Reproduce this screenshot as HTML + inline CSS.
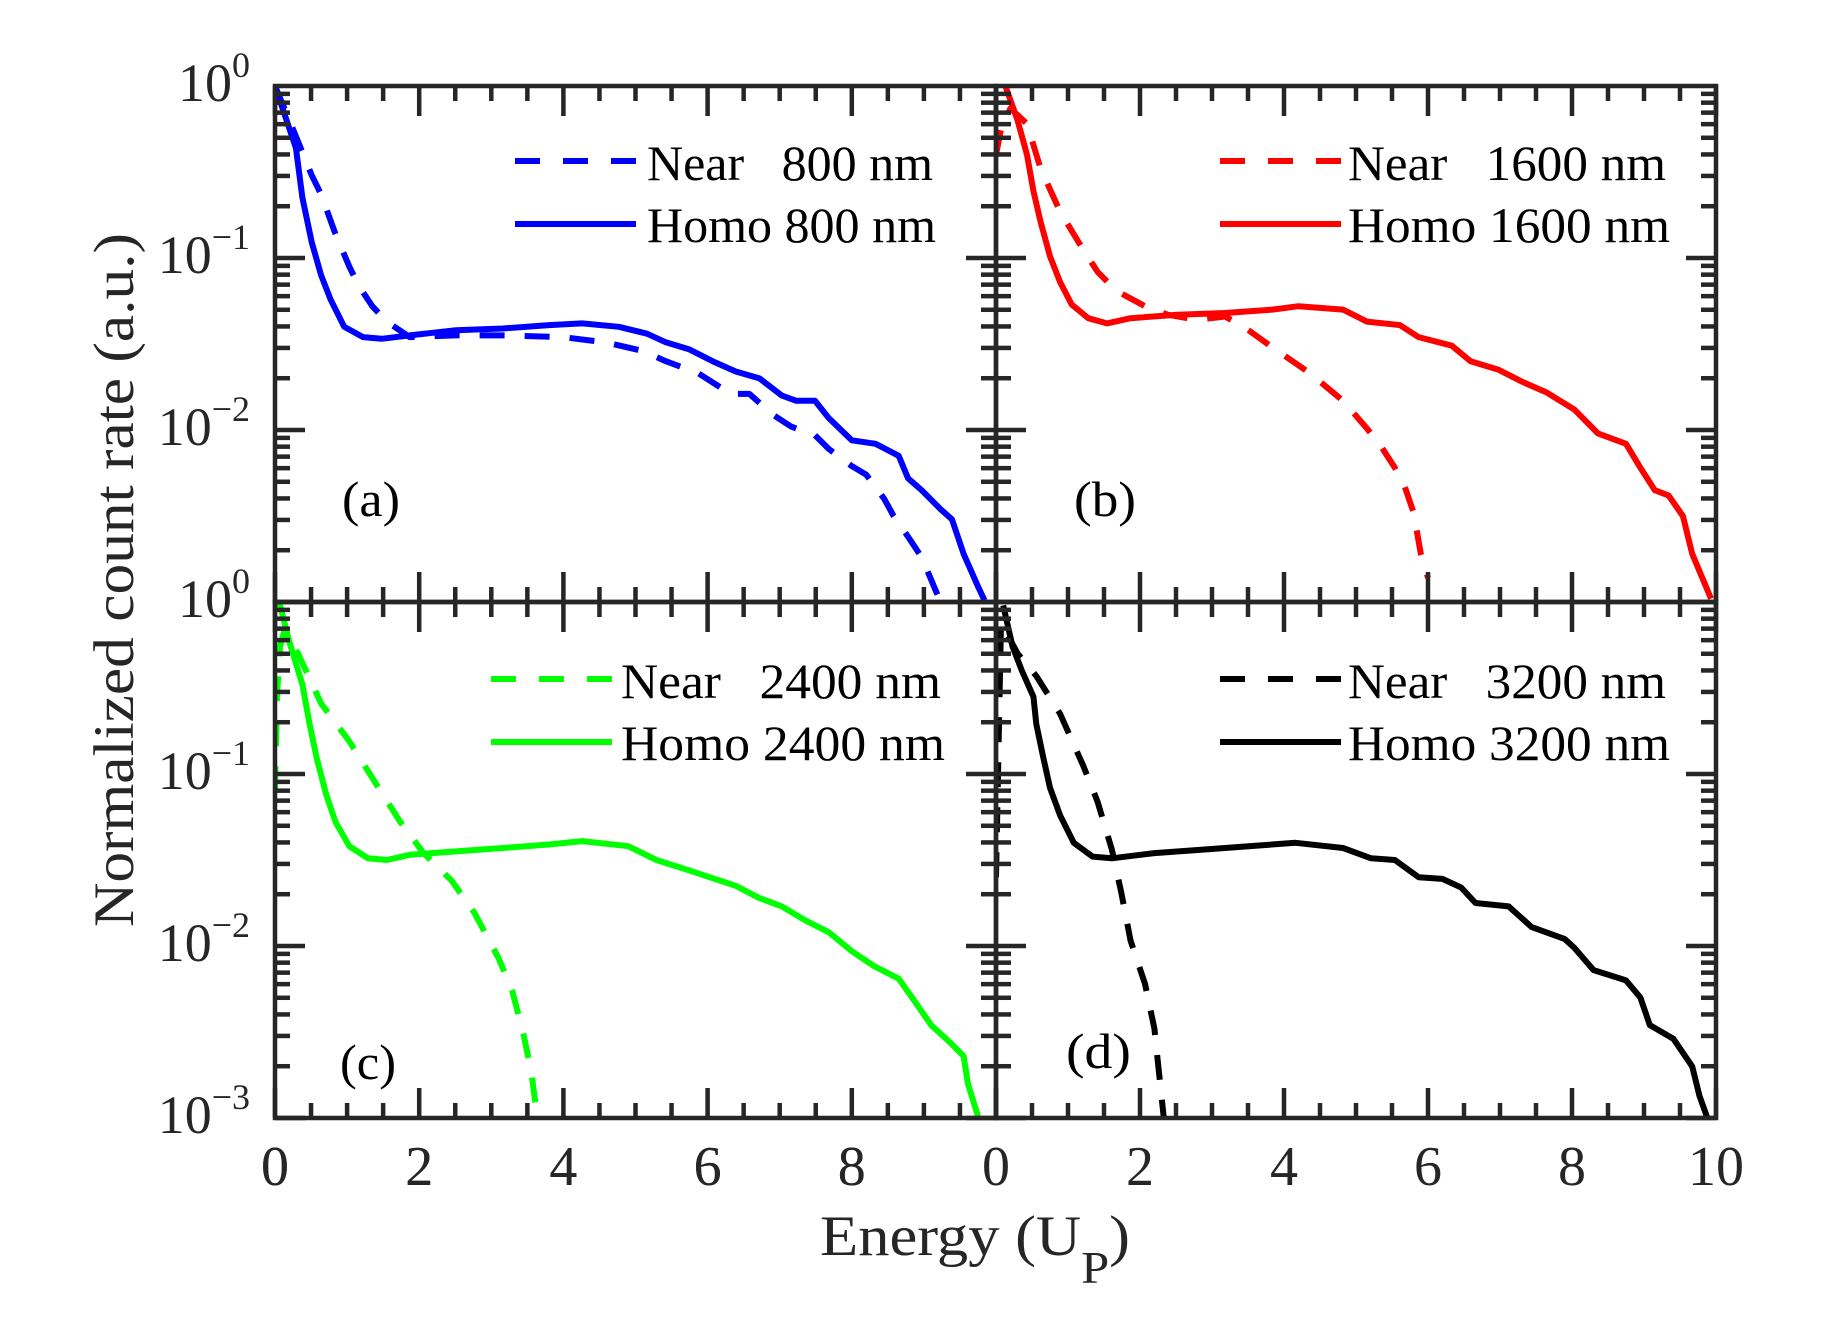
<!DOCTYPE html>
<html><head><meta charset="utf-8"><style>
html,body{margin:0;padding:0;background:#fff;}
svg{display:block;font-family:"Liberation Serif",serif;}
</style></head><body>
<svg id="chart" width="1848" height="1329" viewBox="0 0 1848 1329" xmlns="http://www.w3.org/2000/svg">
<rect width="1848" height="1329" fill="#fff"/>
<g id="plots"></g>
<g id="axes"></g>
<text x="820" y="1255" font-size="57" fill="#262626" textLength="310" lengthAdjust="spacingAndGlyphs">Energy (U<tspan dy="28" font-size="46">P</tspan><tspan dy="-28">)</tspan></text>
<text transform="translate(133,580) rotate(-90)" text-anchor="middle" font-size="57" fill="#262626" textLength="694" lengthAdjust="spacingAndGlyphs">Normalized count rate (a.u.)</text>
</svg>
<script>
// ---- data (x in Up, y as log10 of normalized count rate) ----
const nearA_x=[0,0.2,0.51,0.64,0.83,1.03,1.16,1.35,1.55,1.87,2.51,3.16,3.99,4.58,5.1,5.42,5.87,6.32,6.58,6.9,7.16,7.49,7.68,8.0,8.2,8.45,8.58,8.78,8.97,9.1,9.23];
const nearA_y=[0,-0.2,-0.52,-0.63,-0.85,-1.05,-1.16,-1.28,-1.37,-1.46,-1.45,-1.45,-1.46,-1.49,-1.54,-1.6,-1.67,-1.79,-1.79,-1.91,-1.98,-2.03,-2.11,-2.21,-2.26,-2.4,-2.5,-2.62,-2.74,-2.87,-3];
const homoA_x=[0,0.29,0.38,0.51,0.64,0.77,0.96,1.22,1.48,1.87,2.51,3.16,3.8,4.26,4.77,5.16,5.42,5.74,6.07,6.39,6.72,7.03,7.23,7.49,7.68,8.0,8.33,8.65,8.78,8.97,9.23,9.39,9.55,9.75,9.84];
const homoA_y=[0,-0.36,-0.65,-0.91,-1.1,-1.24,-1.4,-1.46,-1.47,-1.45,-1.42,-1.41,-1.39,-1.38,-1.4,-1.44,-1.49,-1.53,-1.6,-1.66,-1.7,-1.8,-1.83,-1.83,-1.93,-2.06,-2.08,-2.15,-2.28,-2.35,-2.46,-2.52,-2.72,-2.91,-2.99];
const nearB_x=[0,0.07,0.2,0.43,0.62,0.89,1.15,1.41,1.67,2.07,2.39,2.79,3.18,3.44,3.84,4.36,4.82,5.15,5.34,5.54,5.67,5.8,5.9,6.0];
const nearB_y=[-0.4,-0.25,-0.13,-0.22,-0.48,-0.73,-0.91,-1.08,-1.19,-1.28,-1.33,-1.36,-1.34,-1.4,-1.52,-1.67,-1.83,-1.99,-2.09,-2.22,-2.32,-2.48,-2.72,-2.86];
const homoB_x=[0.13,0.3,0.43,0.52,0.62,0.75,0.89,1.05,1.28,1.54,1.87,2.52,3.18,3.84,4.2,4.82,5.15,5.61,5.87,6.33,6.59,6.98,7.31,7.64,8.03,8.36,8.75,8.95,9.15,9.34,9.54,9.67,9.8,9.93];
const homoB_y=[0,-0.2,-0.4,-0.61,-0.79,-0.99,-1.14,-1.27,-1.35,-1.38,-1.35,-1.33,-1.32,-1.3,-1.28,-1.3,-1.37,-1.39,-1.46,-1.51,-1.6,-1.65,-1.72,-1.78,-1.88,-2.02,-2.08,-2.22,-2.35,-2.38,-2.5,-2.72,-2.85,-2.98];
const nearC_x=[0,0.03,0.07,0.12,0.32,0.64,1.03,1.42,1.74,2.06,2.45,2.77,3.1,3.29,3.45,3.55,3.61];
const nearC_y=[-1.1,-0.52,-0.26,-0.18,-0.3,-0.59,-0.81,-1.07,-1.28,-1.46,-1.62,-1.81,-2.07,-2.26,-2.52,-2.72,-2.91];
const homoC_x=[0.06,0.19,0.38,0.48,0.58,0.71,0.84,1.03,1.29,1.55,1.87,2.51,3.16,3.8,4.26,4.9,5.29,5.74,6.39,6.71,7.03,7.35,7.68,8.0,8.32,8.65,8.87,9.1,9.36,9.55,9.61,9.75];
const homoC_y=[0,-0.22,-0.48,-0.71,-0.91,-1.12,-1.28,-1.42,-1.49,-1.5,-1.47,-1.45,-1.43,-1.41,-1.39,-1.42,-1.5,-1.56,-1.65,-1.72,-1.77,-1.85,-1.92,-2.03,-2.12,-2.19,-2.32,-2.46,-2.56,-2.64,-2.8,-2.99];
const nearD_x=[0,0.07,0.3,0.56,0.89,1.21,1.41,1.61,1.74,1.87,2.07,2.2,2.26,2.33];
const nearD_y=[-1.6,-0.12,-0.3,-0.43,-0.65,-0.95,-1.16,-1.44,-1.69,-1.97,-2.22,-2.48,-2.72,-3];
const homoD_x=[0.1,0.23,0.36,0.52,0.56,0.66,0.75,0.89,1.08,1.34,1.61,2.2,2.85,3.51,4.16,4.82,5.21,5.54,5.87,6.2,6.46,6.66,7.12,7.44,7.9,8.03,8.3,8.75,8.95,9.08,9.41,9.67,9.77,9.88];
const homoD_y=[-0.02,-0.26,-0.4,-0.55,-0.71,-0.91,-1.08,-1.24,-1.4,-1.48,-1.49,-1.46,-1.44,-1.42,-1.4,-1.43,-1.49,-1.5,-1.6,-1.61,-1.66,-1.75,-1.77,-1.89,-1.96,-2.01,-2.14,-2.2,-2.3,-2.46,-2.54,-2.7,-2.87,-3];
const xTickValues=[0,2,4,6,8,10];
const yDecades=[0,-1,-2,-3];
const legendNames=["Near\u00a0\u00a0\u00a0800 nm","Homo 800 nm","Near\u00a0\u00a0\u00a01600 nm","Homo 1600 nm","Near\u00a0\u00a0\u00a02400 nm","Homo 2400 nm","Near\u00a0\u00a0\u00a03200 nm","Homo 3200 nm"];
const panelLetters=["(a)","(b)","(c)","(d)"];

const NS="http://www.w3.org/2000/svg";
const AX="#262626";
const panels=[
 {x0:275,x1:996,y0:86,y1:602,color:"#0000ff",nx:nearA_x,ny:nearA_y,hx:homoA_x,hy:homoA_y,lg:{lx:515,tx:647,w1:286,w2:289,y:161},lab:{x:342,y:516,w:58},xlabels:[0,2,4,6,8],ylabels:[0,-1,-2]},
 {x0:996,x1:1716,y0:86,y1:602,color:"#ff0000",nx:nearB_x,ny:nearB_y,hx:homoB_x,hy:homoB_y,lg:{lx:1220,tx:1348,w1:318,w2:322,y:161},lab:{x:1074,y:516,w:62},xlabels:[],ylabels:[]},
 {x0:275,x1:996,y0:602,y1:1118,color:"#00ff00",nx:nearC_x,ny:nearC_y,hx:homoC_x,hy:homoC_y,lg:{lx:491,tx:621,w1:320,w2:324,y:679},lab:{x:340,y:1079,w:56},xlabels:[0,2,4,6,8],ylabels:[0,-1,-2,-3]},
 {x0:996,x1:1716,y0:602,y1:1118,color:"#000000",nx:nearD_x,ny:nearD_y,hx:homoD_x,hy:homoD_y,lg:{lx:1220,tx:1348,w1:318,w2:322,y:679},lab:{x:1066,y:1068,w:65},xlabels:[0,2,4,6,8,10],ylabels:[]}
];
const plots=document.getElementById('plots');
const axes=document.getElementById('axes');
function mk(tag,attrs,parent){const e=document.createElementNS(NS,tag);for(const k in attrs)e.setAttribute(k,attrs[k]);parent.appendChild(e);return e;}
const defs=mk('defs',{},plots);
panels.forEach((p,i)=>{
  const sx=v=>p.x0+(p.x1-p.x0)*v/10;
  const sy=v=>p.y0+(p.y1-p.y0)*(-v)/3;
  const cp=mk('clipPath',{id:'clip'+i},defs);
  mk('rect',{x:p.x0,y:p.y0,width:p.x1-p.x0,height:p.y1-p.y0},cp);
  const g=mk('g',{'clip-path':'url(#clip'+i+')'},plots);
  
  
  const pts=(xs,ys)=>xs.map((x,k)=>sx(x).toFixed(1)+','+sy(ys[k]).toFixed(1)).join(' ');
  const ln=mk('polyline',{points:pts(p.nx,p.ny),fill:'none',stroke:p.color,'stroke-width':6,'stroke-dasharray':'25 20','stroke-linejoin':'round'},g);
  
  
  const lh=mk('polyline',{points:pts(p.hx,p.hy),fill:'none',stroke:p.color,'stroke-width':6,'stroke-linejoin':'round'},g);
  
  
  const box=mk('rect',{x:p.x0,y:p.y0,width:p.x1-p.x0,height:p.y1-p.y0,fill:'none',stroke:AX,'stroke-width':4.5},axes);
  
  
  for(let k=0;k<=20;k++){const v=k*0.5;const X=sx(v);const L=(k%4===0)?30:15;
    mk('line',{x1:X,y1:p.y1,x2:X,y2:p.y1-L,stroke:AX,'stroke-width':4.5},axes);
    mk('line',{x1:X,y1:p.y0,x2:X,y2:p.y0+L,stroke:AX,'stroke-width':4.5},axes);}
  for(let d=0;d<3;d++){for(let m=1;m<=9;m++){const v=-(d+1)+Math.log10(m);const Y=sy(v);const L=m===1?30:15;
    mk('line',{x1:p.x0,y1:Y,x2:p.x0+L,y2:Y,stroke:AX,'stroke-width':4.5},axes);
    mk('line',{x1:p.x1,y1:Y,x2:p.x1-L,y2:Y,stroke:AX,'stroke-width':4.5},axes);}}
  p.xlabels.forEach(v=>{const t=mk('text',{x:sx(v),y:1185,'text-anchor':'middle','font-size':56,fill:AX},axes);t.textContent=v;
    
    });
  p.ylabels.forEach(v=>{const Y=sy(v);const t=mk('text',{x:250,y:Y+15,'text-anchor':'end','font-size':54,fill:AX},axes);
    
    
    const a=mk('tspan',{},t);a.textContent='10';
    const b=mk('tspan',{dy:-24,'font-size':36},t);b.textContent=v===0?'0':'\u2212'+(-v);});
  const lg=p.lg;
  const d1=mk('line',{x1:lg.lx,y1:lg.y,x2:lg.lx+121,y2:lg.y,stroke:p.color,'stroke-width':6,'stroke-dasharray':'25 23'},axes);
  
  
  const d2=mk('line',{x1:lg.lx,y1:lg.y+63,x2:lg.lx+121,y2:lg.y+63,stroke:p.color,'stroke-width':6},axes);
  
  
  const t1=mk('text',{x:lg.tx,y:lg.y+19,'font-size':50,fill:'#000',textLength:lg.w1,lengthAdjust:'spacingAndGlyphs'},axes);
  t1.textContent=legendNames[i*2];
  
  
  const t2=mk('text',{x:lg.tx,y:lg.y+81,'font-size':50,fill:'#000',textLength:lg.w2,lengthAdjust:'spacingAndGlyphs'},axes);
  t2.textContent=legendNames[i*2+1];
  
  
  const pl=mk('text',{x:p.lab.x,y:p.lab.y,'font-size':50,fill:'#000',textLength:p.lab.w,lengthAdjust:'spacingAndGlyphs'},axes);
  pl.textContent=panelLetters[i];
  
  
});
</script>
</body></html>
